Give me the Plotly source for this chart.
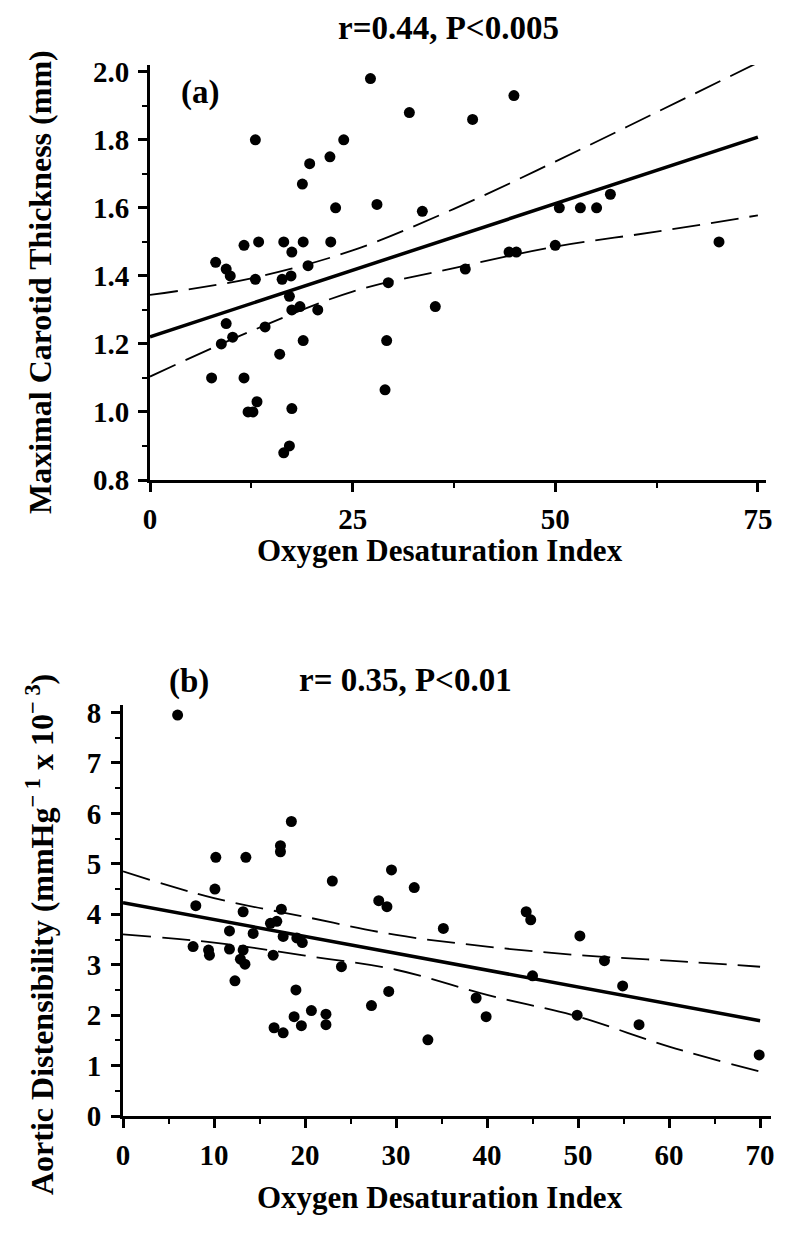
import plotly.graph_objects as go

# ---------------- Panel (a) data ----------------
odi_a = [27.2, 13.0, 32.0, 39.8, 44.9, 23.9, 22.2, 19.7, 18.8, 22.9, 28.0, 33.6,
         50.5, 53.1, 55.1, 56.8, 11.6, 13.4, 16.5, 17.5, 18.9, 22.3, 19.5, 8.1,
         9.4, 9.9, 13.0, 16.3, 17.4, 29.4, 38.9, 44.3, 45.2, 50.0, 70.2, 17.2,
         17.5, 18.5, 20.7, 35.2, 9.4, 10.2, 8.8, 14.2, 18.9, 29.2, 16.0, 7.6,
         11.6, 29.0, 12.1, 12.7, 13.2, 17.5, 16.5, 17.2]
thick_a = [1.98, 1.80, 1.88, 1.86, 1.93, 1.80, 1.75, 1.73, 1.67, 1.60, 1.61, 1.59,
           1.60, 1.60, 1.60, 1.64, 1.49, 1.50, 1.50, 1.47, 1.50, 1.50, 1.43, 1.44,
           1.42, 1.40, 1.39, 1.39, 1.40, 1.38, 1.42, 1.47, 1.47, 1.49, 1.50, 1.34,
           1.30, 1.31, 1.30, 1.31, 1.26, 1.22, 1.20, 1.25, 1.21, 1.21, 1.17, 1.10,
           1.10, 1.065, 1.00, 1.00, 1.03, 1.01, 0.88, 0.90]
fit_a_x = [0, 75]
fit_a_y = [1.221, 1.808]
band_a_x = [0, 12.5, 25, 37.5, 50, 62.5, 75]
band_a_upper = [1.344, 1.393, 1.475, 1.597, 1.736, 1.881, 2.027]
band_a_lower = [1.104, 1.238, 1.354, 1.423, 1.486, 1.530, 1.578]

# ---------------- Panel (b) data ----------------
odi_b = [6.0, 18.5, 10.2, 13.5, 17.3, 17.3, 23.0, 29.5, 32.0, 10.1, 8.0, 13.2,
         17.4, 28.1, 29.0, 44.3, 44.8, 35.2, 50.2, 16.2, 16.9, 11.7, 14.3, 17.6,
         19.1, 19.7, 7.7, 9.4, 9.5, 11.7, 13.2, 12.9, 13.4, 16.5, 24.0, 52.9,
         45.0, 54.9, 12.3, 19.0, 29.2, 38.8, 27.3, 20.7, 22.3, 22.3, 18.8, 19.6,
         16.6, 17.6, 39.9, 49.9, 56.7, 33.5, 69.9]
dist_b = [7.95, 5.84, 5.13, 5.13, 5.36, 5.24, 4.66, 4.88, 4.53, 4.50, 4.17, 4.05,
          4.10, 4.27, 4.15, 4.05, 3.89, 3.72, 3.57, 3.82, 3.86, 3.67, 3.62, 3.56,
          3.53, 3.44, 3.36, 3.29, 3.19, 3.31, 3.29, 3.11, 3.01, 3.19, 2.96, 3.08,
          2.78, 2.58, 2.68, 2.50, 2.47, 2.34, 2.19, 2.09, 2.02, 1.81, 1.97, 1.79,
          1.75, 1.65, 1.97, 2.00, 1.81, 1.51, 1.21]
fit_b_x = [0, 70]
fit_b_y = [4.23, 1.89]
band_b_x = [0, 10, 20, 30, 40, 50, 60, 70]
band_b_upper = [4.85, 4.32, 3.95, 3.59, 3.36, 3.19, 3.08, 2.96]
band_b_lower = [3.60, 3.44, 3.18, 2.90, 2.40, 1.97, 1.375, 0.88]

W, H = 800, 1242
FONT = "Liberation Serif"


def px_x(p):
    return p / W


def px_y(p):
    return 1 - p / H


fig = go.Figure()

marker = dict(color="black", size=11, symbol="circle")
dash_style = "28px,11px"

# panel (a)
fig.add_trace(go.Scatter(x=odi_a, y=thick_a, mode="markers", marker=marker,
                         xaxis="x", yaxis="y", showlegend=False))
fig.add_trace(go.Scatter(x=fit_a_x, y=fit_a_y, mode="lines",
                         line=dict(color="black", width=3.5),
                         xaxis="x", yaxis="y", showlegend=False))
for band in (band_a_upper, band_a_lower):
    fig.add_trace(go.Scatter(x=band_a_x, y=band, mode="lines",
                             line=dict(color="black", width=1.8, dash=dash_style,
                                       shape="spline", smoothing=1.0),
                             xaxis="x", yaxis="y", showlegend=False))

# panel (b)
fig.add_trace(go.Scatter(x=odi_b, y=dist_b, mode="markers", marker=marker,
                         xaxis="x2", yaxis="y2", showlegend=False))
fig.add_trace(go.Scatter(x=fit_b_x, y=fit_b_y, mode="lines",
                         line=dict(color="black", width=3.5),
                         xaxis="x2", yaxis="y2", showlegend=False))
for band in (band_b_upper, band_b_lower):
    fig.add_trace(go.Scatter(x=band_b_x, y=band, mode="lines",
                             line=dict(color="black", width=1.8, dash=dash_style,
                                       shape="spline", smoothing=1.0),
                             xaxis="x2", yaxis="y2", showlegend=False))

tickfont = dict(family=FONT, size=29, color="black", weight="bold")
common = dict(showline=True, linewidth=3, linecolor="black", ticks="outside",
              ticklen=9, tickwidth=2.5, tickcolor="black", showgrid=False,
              zeroline=False, tickfont=tickfont, automargin=False)

fig.update_layout(
    width=W, height=H,
    margin=dict(l=0, r=0, t=0, b=0, autoexpand=False),
    paper_bgcolor="white", plot_bgcolor="white",
    xaxis=dict(domain=[px_x(150), px_x(766)], range=[0, 76], tickvals=[0, 25, 50, 75],
               minor=dict(dtick=12.5, tick0=0, ticklen=5, tickwidth=2, tickcolor="black", ticks="outside"),
               anchor="y", ticklabelstandoff=2, **common),
    yaxis=dict(domain=[px_y(480), px_y(65)], range=[0.8, 2.02],
               tickvals=[0.8, 1.0, 1.2, 1.4, 1.6, 1.8, 2.0], tickformat=".1f",
               minor=dict(dtick=0.1, tick0=0.8, ticklen=5, tickwidth=2, tickcolor="black", ticks="outside"),
               anchor="x", ticklabelstandoff=3, **common),
    xaxis2=dict(domain=[px_x(123), px_x(771)], range=[0, 71.2],
                tickvals=[0, 10, 20, 30, 40, 50, 60, 70],
                minor=dict(dtick=5, tick0=0, ticklen=5, tickwidth=2, tickcolor="black", ticks="outside"),
                anchor="y2", ticklabelstandoff=2, **common),
    yaxis2=dict(domain=[px_y(1116), px_y(705)], range=[0, 8.15],
                tickvals=[0, 1, 2, 3, 4, 5, 6, 7, 8],
                minor=dict(dtick=0.5, tick0=0, ticklen=5, tickwidth=2, tickcolor="black", ticks="outside"),
                anchor="x2", ticklabelstandoff=4, **common),
)

ann_font = dict(family=FONT, size=31, color="black", weight="bold")
ylab_font = dict(family=FONT, size=32, color="black", weight="bold")
title_font = dict(family=FONT, size=33, color="black", weight="bold")
panel_font = dict(family=FONT, size=33, color="black", weight="bold")
annotations = [
    dict(text="r=0.44, P<0.005", x=px_x(448), y=px_y(28), font=title_font),
    dict(text="(a)", x=px_x(200), y=px_y(92), font=panel_font),
    dict(text="Oxygen Desaturation Index", x=px_x(440), y=px_y(550), font=ann_font),
    dict(text="Maximal Carotid Thickness (mm)", x=px_x(40), y=px_y(282),
         font=ylab_font, textangle=-90),
    dict(text="(b)", x=px_x(189), y=px_y(681), font=panel_font),
    dict(text="r= 0.35, P<0.01", x=px_x(405), y=px_y(680), font=title_font),
    dict(text="Oxygen Desaturation Index", x=px_x(440), y=px_y(1197), font=ann_font),
    dict(text="Aortic Distensibility (mmHg<sup>\u2212 1</sup> x 10<sup>\u2212 3</sup>)",
         x=px_x(40), y=px_y(935), font=ylab_font, textangle=-90),
]
for a in annotations:
    a.update(xref="paper", yref="paper", showarrow=False, xanchor="center", yanchor="middle")
fig.update_layout(annotations=annotations)

fig.write_html("out.html", config={"displayModeBar": False},
               post_script="document.body.style.margin='0px';")
